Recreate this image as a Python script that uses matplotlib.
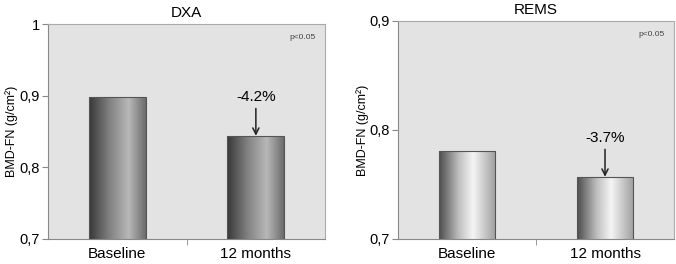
import matplotlib
matplotlib.use("Agg")
import matplotlib.pyplot as plt
import numpy as np

plt.rcParams['font.family'] = ['Liberation Sans', 'DejaVu Sans']

categories = ["Baseline", "12 months"]
dxa_values = [0.898, 0.844]
rems_values = [0.781, 0.757]
dxa_change = "-4.2%"
rems_change = "-3.7%"
dxa_ticks = [0.7, 0.8, 0.9, 1.0]
dxa_ticklabels = ["0,7", "0,8", "0,9", "1"]
rems_ticks = [0.7, 0.8, 0.9]
rems_ticklabels = ["0,7", "0,8", "0,9"]


def gradient_bars(ax, values, stops, ymin):
    x = np.arange(len(values))
    bars = ax.bar(x, values, width=0.41, bottom=0, color='none',
                  edgecolor='#555555', linewidth=0.8, zorder=3)
    pos = [s[0] for s in stops]
    lev = [s[1] for s in stops]
    g = np.interp(np.linspace(0, 1, 200), pos, lev)
    img = np.tile(g, (2, 1))
    for b in bars:
        x0 = b.get_x()
        im = ax.imshow(img, cmap='gray', vmin=0, vmax=1, aspect='auto',
                       extent=[x0, x0 + b.get_width(), ymin, b.get_height()],
                       zorder=2, interpolation='bilinear')
        im.set_clip_path(b)
    return bars


def style(ax, title, ticks, labels, ylim, labelx):
    ax.set_facecolor('#e3e3e3')
    ax.set_xlim(-0.5, 1.5)
    ax.set_ylim(*ylim)
    ax.set_yticks(ticks)
    ax.set_yticklabels(labels, fontsize=10.5)
    ax.set_xticks([0, 1])
    ax.set_xticklabels(categories, fontsize=11)
    ax.tick_params(axis='x', length=0, pad=6)
    ax.tick_params(axis='y', length=4, color='#888888', pad=2)
    ax.set_xticks([0.5], minor=True)
    ax.tick_params(axis='x', which='minor', length=4, color='#888888')
    for s in ['left', 'bottom']:
        ax.spines[s].set_color('#888888')
    for s in ['top', 'right']:
        ax.spines[s].set_color('#aaaaaa')
    ax.set_ylabel("BMD-FN (g/cm²)", fontsize=9)
    ax.yaxis.set_label_coords(labelx, 0.5)
    ax.set_title(title, fontsize=11, pad=5)
    ax.text(0.965, 0.955, "p<0.05", transform=ax.transAxes, ha='right',
            va='top', fontsize=6, color='#444444')


fig = plt.figure(figsize=(6.76, 2.64), dpi=100)
ax1 = fig.add_axes([0.071, 0.095, 0.410, 0.814])
ax2 = fig.add_axes([0.589, 0.095, 0.408, 0.826])

style(ax1, "DXA", dxa_ticks, dxa_ticklabels, (0.7, 1.0), -0.11)
style(ax2, "REMS", rems_ticks, rems_ticklabels, (0.7, 0.9), -0.105)

gradient_bars(ax1, dxa_values,
              [(0, 0.22), (0.35, 0.5), (0.7, 0.72), (1, 0.42)], 0.7)
gradient_bars(ax2, rems_values,
              [(0, 0.3), (0.35, 0.75), (0.6, 0.96), (1, 0.62)], 0.7)

ax1.annotate(dxa_change, xy=(1, dxa_values[1]), xytext=(1, 0.888),
             ha='center', va='bottom', fontsize=11,
             arrowprops=dict(arrowstyle='->', color='#222222', lw=1.1,
                             shrinkA=1, shrinkB=0), zorder=5)
ax2.annotate(rems_change, xy=(1, rems_values[1]), xytext=(1, 0.786),
             ha='center', va='bottom', fontsize=11,
             arrowprops=dict(arrowstyle='->', color='#222222', lw=1.1,
                             shrinkA=1, shrinkB=0), zorder=5)

fig.savefig("out.png", dpi=100)
